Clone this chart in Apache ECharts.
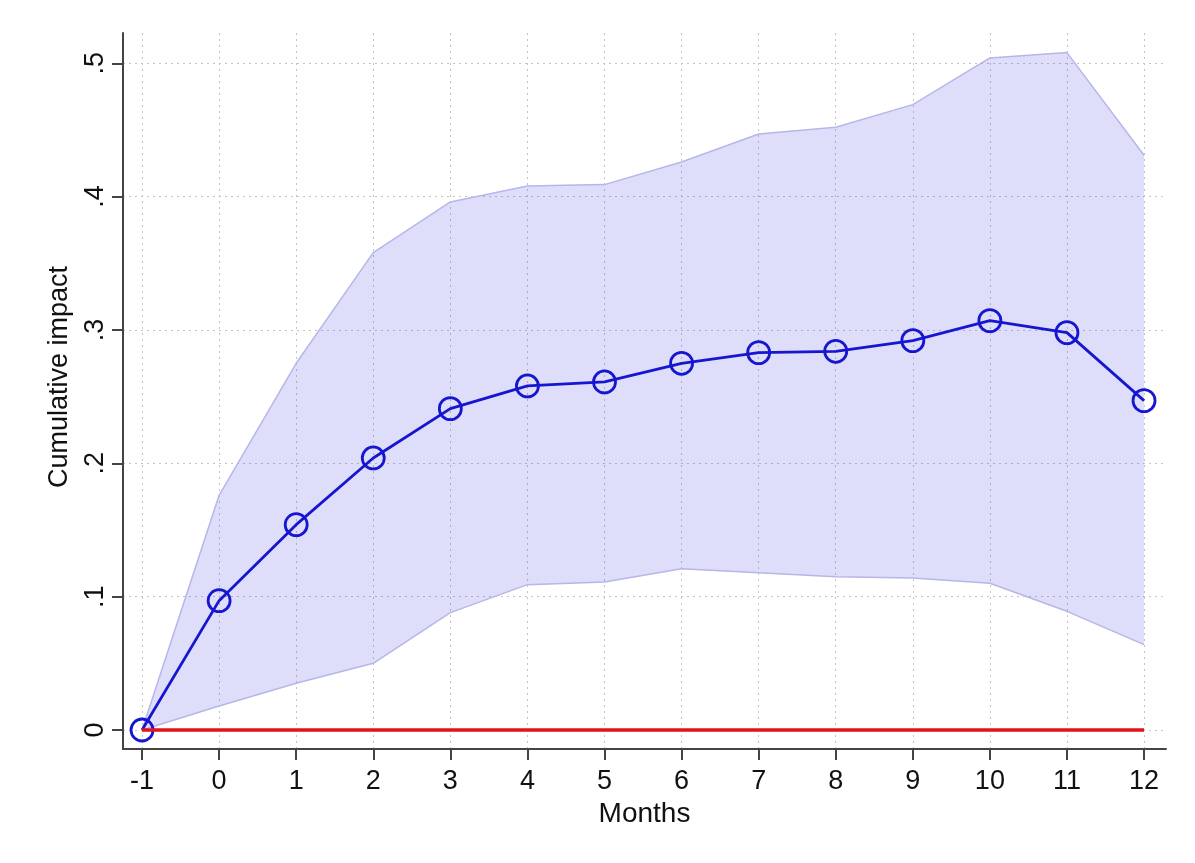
<!DOCTYPE html>
<html>
<head>
<meta charset="utf-8">
<script src="https://cdn.jsdelivr.net/npm/echarts@6/dist/echarts.min.js"></script>
<style>
  html, body { margin: 0; padding: 0; background: #ffffff; }
  #chart { width: 1195px; height: 863px; }
</style>
</head>
<body>
<div id="chart"></div>
<script>
// ---- data ----
const months = [-1, 0, 1, 2, 3, 4, 5, 6, 7, 8, 9, 10, 11, 12];
const estimate = [0, 0.097, 0.154, 0.204, 0.241, 0.258, 0.261, 0.275, 0.283, 0.284, 0.292, 0.307, 0.298, 0.247];
const ciUpper = [0, 0.176, 0.275, 0.358, 0.396, 0.408, 0.409, 0.426, 0.447, 0.452, 0.469, 0.504, 0.508, 0.431];
const ciLower = [0, 0.018, 0.035, 0.050, 0.088, 0.109, 0.111, 0.121, 0.118, 0.115, 0.114, 0.110, 0.089, 0.064];
const zeroLine = [0, 0, 0, 0, 0, 0, 0, 0, 0, 0, 0, 0, 0, 0];
const xTickValues = [-1, 0, 1, 2, 3, 4, 5, 6, 7, 8, 9, 10, 11, 12];
const yTickValues = [0, 0.1, 0.2, 0.3, 0.4, 0.5];
const yTickLabels = ['0', '.1', '.2', '.3', '.4', '.5'];
const xTitle = 'Months';
const yTitle = 'Cumulative impact';

// ---- build series data ----
const pairs = (ys) => months.map((m, i) => [m, ys[i]]);
const bandData = months.map((m, i) => [m, ciLower[i], ciUpper[i]]);

const FONT = 'Liberation Sans, Arial, sans-serif';
const AXIS_COLOR = '#444444';
const GRID_COLOR = '#c4c4c4';
const BAND_FILL = 'rgba(20,20,230,0.14)';
const BAND_EDGE = '#b6b6e8';
const LINE_BLUE = '#1616d0';

const chart = echarts.init(document.getElementById('chart'), null, { renderer: 'canvas' });

chart.setOption({
  animation: false,
  backgroundColor: '#ffffff',
  grid: { left: 123, right: 29, top: 33, bottom: 114, containLabel: false },
  xAxis: {
    type: 'value',
    min: -1.247,
    max: 12.285,
    name: xTitle,
    nameLocation: 'middle',
    nameGap: 47,
    nameTextStyle: { fontFamily: FONT, fontSize: 28, color: '#111' },
    axisLine: { show: true, onZero: false, lineStyle: { color: AXIS_COLOR, width: 2 } },
    axisTick: { show: true, customValues: xTickValues, length: 11, inside: false, lineStyle: { color: AXIS_COLOR, width: 2 } },
    axisLabel: { show: true, customValues: xTickValues, margin: 19, fontFamily: FONT, fontSize: 27, color: '#111',
      formatter: (v) => String(v) },
    splitLine: { show: true, lineStyle: { color: GRID_COLOR, width: 1, type: [2, 4] } }
  },
  yAxis: {
    type: 'value',
    min: -0.01425,
    max: 0.5227,
    axisLine: { show: true, onZero: false, lineStyle: { color: AXIS_COLOR, width: 2 } },
    axisTick: { show: true, customValues: yTickValues, length: 11, inside: false, lineStyle: { color: AXIS_COLOR, width: 2 } },
    axisLabel: { show: true, customValues: yTickValues, rotate: 90, margin: 14, fontFamily: FONT, fontSize: 27, color: '#111',
      formatter: (v) => {
        const idx = yTickValues.findIndex(t => Math.abs(t - v) < 1e-9);
        return idx >= 0 ? yTickLabels[idx] : '';
      } },
    splitLine: { show: true, lineStyle: { color: GRID_COLOR, width: 1, type: [2, 4] } }
  },
  graphic: [{
    type: 'text',
    x: 60,
    y: 377,
    rotation: Math.PI / 2,
    style: { text: yTitle, font: '27px ' + FONT, fill: '#111', textAlign: 'center', textVerticalAlign: 'middle' }
  }],
  series: [
    {
      name: 'ciBand',
      type: 'custom',
      data: bandData,
      encode: { x: 0, y: [1, 2] },
      silent: true,
      z: 1,
      renderItem: (params, api) => {
        if (params.dataIndex !== 0) return null;
        const upperPts = bandData.map(d => api.coord([d[0], d[2]]));
        const lowerPts = bandData.slice().reverse().map(d => api.coord([d[0], d[1]]));
        return {
          type: 'polygon',
          shape: { points: upperPts.concat(lowerPts) },
          style: { fill: BAND_FILL, stroke: null }
        };
      }
    },
    {
      name: 'ciUpperEdge',
      type: 'line',
      data: pairs(ciUpper),
      symbol: 'none',
      lineStyle: { color: BAND_EDGE, width: 1.5 },
      z: 2
    },
    {
      name: 'ciLowerEdge',
      type: 'line',
      data: pairs(ciLower),
      symbol: 'none',
      lineStyle: { color: BAND_EDGE, width: 1.5 },
      z: 2
    },
    {
      name: 'estimate',
      type: 'line',
      data: pairs(estimate),
      symbol: 'circle',
      symbolSize: 22,
      showSymbol: true,
      lineStyle: { color: LINE_BLUE, width: 2.8 },
      itemStyle: { color: 'rgba(0,0,0,0)', borderColor: LINE_BLUE, borderWidth: 2.8 },
      z: 3
    },
    {
      name: 'zero',
      type: 'line',
      data: pairs(zeroLine),
      symbol: 'none',
      lineStyle: { color: '#e4121a', width: 3.5 },
      z: 4
    }
  ]
});
</script>
</body>
</html>
